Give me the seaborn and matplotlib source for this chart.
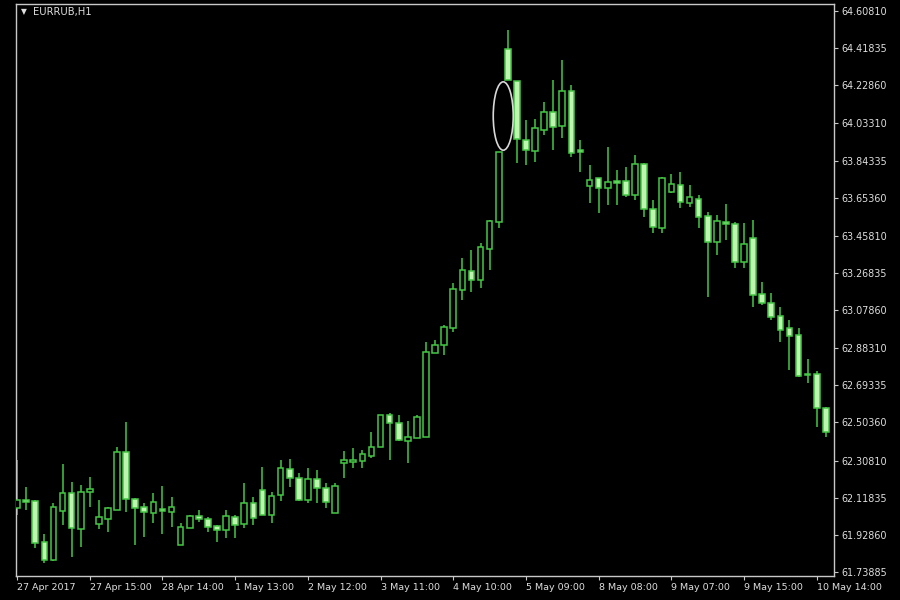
import matplotlib
matplotlib.use("Agg")
import matplotlib.pyplot as plt
from matplotlib.patches import Ellipse
import numpy as np
import seaborn as sns

# EURRUB H1, one row per hourly bar
opens = [62.066, 62.107, 62.102, 61.892, 61.800, 62.051, 62.143, 61.959, 62.148, 61.984,
         62.010, 62.056, 62.353, 62.112, 62.071, 62.041, 62.061, 62.046, 61.877, 61.964,
         62.025, 62.010, 61.974, 61.954, 62.020, 61.984, 62.092, 62.158, 62.030, 62.133,
         62.266, 62.220, 62.107, 62.215, 62.169, 62.041, 62.296, 62.302, 62.307, 62.332,
         62.378, 62.542, 62.501, 62.409, 62.424, 62.429, 62.859, 62.900, 62.987, 63.181,
         63.278, 63.232, 63.391, 63.529, 64.414, 64.250, 63.948, 63.892, 64.000, 64.092,
         64.020, 64.199, 63.897, 63.713, 63.754, 63.703, 63.739, 63.739, 63.667, 63.826,
         63.596, 63.498, 63.682, 63.718, 63.626, 63.647, 63.560, 63.427, 63.529, 63.519,
         63.324, 63.447, 63.161, 63.115, 63.048, 62.987, 62.951, 62.752, 62.752, 62.578]
highs = [62.312, 62.174, 62.107, 61.933, 62.092, 62.291, 62.199, 62.184, 62.225, 62.107,
         62.071, 62.378, 62.506, 62.117, 62.092, 62.143, 62.179, 62.122, 61.990, 62.030,
         62.056, 62.020, 61.979, 62.056, 62.030, 62.194, 62.122, 62.276, 62.148, 62.312,
         62.317, 62.245, 62.271, 62.261, 62.194, 62.194, 62.358, 62.373, 62.363, 62.455,
         62.542, 62.552, 62.542, 62.511, 62.542, 62.915, 62.925, 63.002, 63.217, 63.345,
         63.386, 63.422, 63.539, 63.887, 64.511, 64.250, 64.051, 64.056, 64.143, 64.255,
         64.358, 64.230, 63.948, 63.821, 63.754, 63.913, 63.795, 63.810, 63.872, 63.831,
         63.642, 63.759, 63.775, 63.785, 63.718, 63.667, 63.580, 63.565, 63.621, 63.529,
         63.524, 63.539, 63.222, 63.166, 63.094, 63.028, 62.987, 62.828, 62.767, 62.583]
lows = [62.030, 62.056, 61.862, 61.785, 61.795, 61.979, 61.816, 61.867, 62.071, 61.959,
        61.943, 62.056, 62.046, 61.877, 61.918, 61.990, 61.933, 61.969, 61.877, 61.964,
        61.995, 61.943, 61.892, 61.913, 61.913, 61.964, 61.979, 62.030, 61.990, 62.102,
        62.174, 62.102, 62.092, 62.092, 62.066, 62.041, 62.220, 62.271, 62.271, 62.322,
        62.378, 62.312, 62.409, 62.296, 62.424, 62.429, 62.859, 62.849, 62.966, 63.130,
        63.171, 63.191, 63.284, 63.498, 64.255, 63.831, 63.821, 63.836, 63.974, 63.897,
        63.959, 63.862, 63.785, 63.626, 63.575, 63.616, 63.616, 63.657, 63.642, 63.555,
        63.473, 63.473, 63.677, 63.601, 63.606, 63.498, 63.145, 63.360, 63.437, 63.294,
        63.294, 63.094, 63.104, 63.028, 62.915, 62.772, 62.736, 62.706, 62.481, 62.429]
closes = [62.107, 62.097, 61.887, 61.800, 62.071, 62.143, 61.964, 62.148, 62.163, 62.020,
          62.066, 62.353, 62.112, 62.066, 62.046, 62.097, 62.051, 62.071, 61.969, 62.025,
          62.010, 61.969, 61.954, 62.025, 61.979, 62.092, 62.015, 62.030, 62.128, 62.271,
          62.220, 62.107, 62.215, 62.169, 62.097, 62.179, 62.312, 62.312, 62.342, 62.378,
          62.542, 62.501, 62.414, 62.429, 62.532, 62.864, 62.900, 62.992, 63.186, 63.284,
          63.232, 63.401, 63.534, 63.887, 64.255, 63.954, 63.897, 64.010, 64.092, 64.015,
          64.199, 63.882, 63.887, 63.744, 63.703, 63.734, 63.729, 63.667, 63.826, 63.596,
          63.503, 63.754, 63.723, 63.631, 63.657, 63.555, 63.427, 63.534, 63.519, 63.324,
          63.417, 63.156, 63.115, 63.043, 62.977, 62.946, 62.741, 62.746, 62.578, 62.455]

time_labels = ["27 Apr 2017", "27 Apr 15:00", "28 Apr 14:00", "1 May 13:00", "2 May 12:00",
               "3 May 11:00", "4 May 10:00", "5 May 09:00", "8 May 08:00", "9 May 07:00",
               "9 May 15:00", "10 May 14:00"]
label_every = 8
price_ticks = [64.60810, 64.41835, 64.22860, 64.03310, 63.84335, 63.65360, 63.45810, 63.26835,
               63.07860, 62.88310, 62.69335, 62.50360, 62.30810, 62.11835, 61.92860, 61.73885]
gap_bar = 53  # the circled gap between bar 53 close and bar 54 low

sns.set_theme(style="dark", rc={
    "figure.facecolor": "black",
    "axes.facecolor": "black",
    "axes.edgecolor": "#c8c8c8",
    "axes.linewidth": 1.0,
    "xtick.color": "#c8c8c8",
    "ytick.color": "#c8c8c8",
    "text.color": "#e0e0e0",
})
plt.rcParams["font.family"] = ["DejaVu Sans"]

EDGE = "#45c845"
FILL_BEAR = "#bff5b0"
LABEL = "#dedede"

o = np.array(opens)
h = np.array(highs)
l = np.array(lows)
c = np.array(closes)
x = np.arange(len(o))
bull = c >= o

fig = plt.figure(figsize=(9, 6), dpi=100)
ax = fig.add_axes([16 / 900, 24 / 600, 818 / 900, 572 / 600])

ax.vlines(x, l, h, color=EDGE, linewidth=1.1, zorder=2)
bottom = np.minimum(o, c)
height = np.maximum(np.abs(c - o), 0.003)
ax.bar(x[bull], height[bull], bottom=bottom[bull], width=0.62,
       color="black", edgecolor=EDGE, linewidth=1.1, zorder=3)
ax.bar(x[~bull], height[~bull], bottom=bottom[~bull], width=0.62,
       color=FILL_BEAR, edgecolor=EDGE, linewidth=1.1, zorder=3)

# circled gap
g_lo = c[gap_bar]
g_hi = l[gap_bar + 1]
ax.add_patch(Ellipse(((gap_bar + gap_bar + 1) / 2, (g_lo + g_hi) / 2), 2.2, (g_hi - g_lo) * 0.95,
                     fill=False, edgecolor="#d8d8d8", linewidth=1.2, zorder=4))

ax.set_xlim(-0.12, 89.9)
ax.set_ylim(61.7184, 64.6440)

ax.yaxis.tick_right()
ax.set_yticks(price_ticks)
ax.set_yticklabels([f"{p:.5f}" for p in price_ticks])
ax.set_xticks(x[::label_every][:len(time_labels)])
ax.set_xticklabels(time_labels, ha="left")
ax.tick_params(axis="y", direction="out", length=3, width=0.8, pad=2,
               labelsize=6.9, labelcolor=LABEL, right=True, left=False)
ax.tick_params(axis="x", direction="out", length=3, width=0.8, pad=2,
               labelsize=6.8, labelcolor=LABEL, bottom=True)
for lbl in ax.get_xticklabels():
    lbl.set_horizontalalignment("left")
ax.grid(False)
for side in ax.spines.values():
    side.set_visible(True)
    side.set_color("#c8c8c8")

fig.text(21 / 900, 1 - 12 / 600, "\u25bc", fontsize=5.5, color=LABEL, va="center")
fig.text(33 / 900, 1 - 12 / 600, "EURRUB,H1", fontsize=7.2, color=LABEL, va="center")

fig.savefig("out.png", dpi=100, facecolor="black")
